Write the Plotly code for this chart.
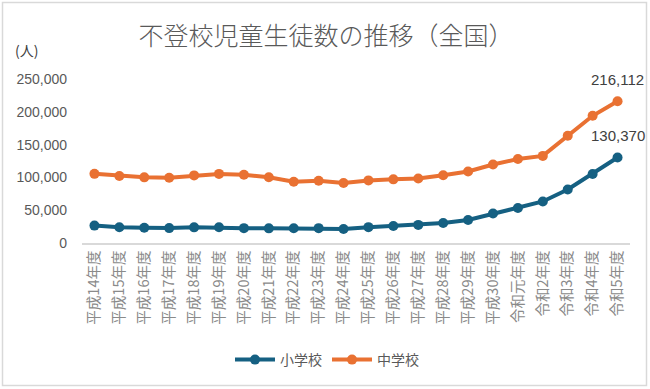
import plotly.graph_objects as go

categories = ["平成14年度", "平成15年度", "平成16年度", "平成17年度", "平成18年度", "平成19年度",
              "平成20年度", "平成21年度", "平成22年度", "平成23年度", "平成24年度", "平成25年度",
              "平成26年度", "平成27年度", "平成28年度", "平成29年度", "平成30年度", "令和元年度",
              "令和2年度", "令和3年度", "令和4年度", "令和5年度"]
elementary = [26511, 24077, 23318, 22709, 23825, 23927, 22652, 22327, 22463, 22622, 21243, 24175,
              25864, 27583, 30448, 35032, 44841, 53350, 63350, 81498, 105112, 130370]
junior_high = [105383, 102149, 100040, 99578, 103069, 105328, 104153, 100105, 93300, 94836, 91446, 95442,
               97033, 98408, 103235, 108999, 119687, 127922, 132777, 163442, 193936, 216112]
y_ticks = [0, 50000, 100000, 150000, 200000, 250000]

BLUE = "#156082"
ORANGE = "#E97132"
FONT = "Noto Sans CJK JP"

# plot-area geometry in pixels (for converting frame to paper coords)
L, R, T, B = 82, 20, 79, 146
W, H = 650, 389
pw, ph = W - L - R, H - T - B

def px_x(p):
    return (p - L) / pw

def px_y(p):
    return (H - B - p) / ph

fig = go.Figure()
fig.add_trace(go.Scatter(
    x=categories, y=elementary, name="小学校", mode="lines+markers",
    line=dict(color=BLUE, width=4), marker=dict(color=BLUE, size=10)))
fig.add_trace(go.Scatter(
    x=categories, y=junior_high, name="中学校", mode="lines+markers",
    line=dict(color=ORANGE, width=4), marker=dict(color=ORANGE, size=10)))

for series in (junior_high, elementary):
    fig.add_annotation(x=categories[-1], y=series[-1], text=f"{series[-1]:,}",
                       showarrow=False, yshift=22,
                       font=dict(family="Liberation Sans", size=15, color="#404040"))

fig.add_annotation(xref="paper", yref="paper", x=px_x(13), y=px_y(50),
                   xanchor="left", yanchor="middle", text="(人)", showarrow=False,
                   font=dict(family=FONT, size=14, color="#404040"))

fig.add_shape(type="rect", xref="paper", yref="paper",
              x0=px_x(2.5), x1=px_x(646.5), y0=px_y(385.5), y1=px_y(2.5),
              line=dict(color="#d9d9d9", width=1.5), fillcolor="rgba(0,0,0,0)", layer="below")

fig.update_layout(
    width=W, height=H,
    margin=dict(l=L, r=R, t=T, b=B),
    paper_bgcolor="white", plot_bgcolor="white",
    title=dict(text="不登校児童生徒数の推移（全国）", x=326 / W,
               xanchor="center", y=1 - 36 / H, yanchor="middle",
               font=dict(family=FONT, size=25, color="#595959", weight=300)),
    font=dict(family=FONT),
    showlegend=True,
    legend=dict(orientation="h", x=px_x(327), xanchor="center", y=px_y(360), yanchor="middle",
                font=dict(family=FONT, size=14, color="#595959"), itemwidth=40),
    xaxis=dict(range=[-0.5, len(categories) - 0.5], tickangle=-90,
               tickfont=dict(family=FONT, size=14.5, color="#8a8a8a"),
               showgrid=False, showline=True, linecolor="#d9d9d9", linewidth=1.5,
               ticks="", zeroline=False),
    yaxis=dict(range=[0, 250000], tickvals=y_ticks, tickformat=",",
               tickfont=dict(family="Liberation Sans", size=14, color="#595959"),
               showgrid=False, showline=False, zeroline=False, ticks="", ticklabelstandoff=14),
)

fig.write_html("out.html", config={"displayModeBar": False},
               post_script="document.body.style.margin='0';document.body.style.padding='0';")
